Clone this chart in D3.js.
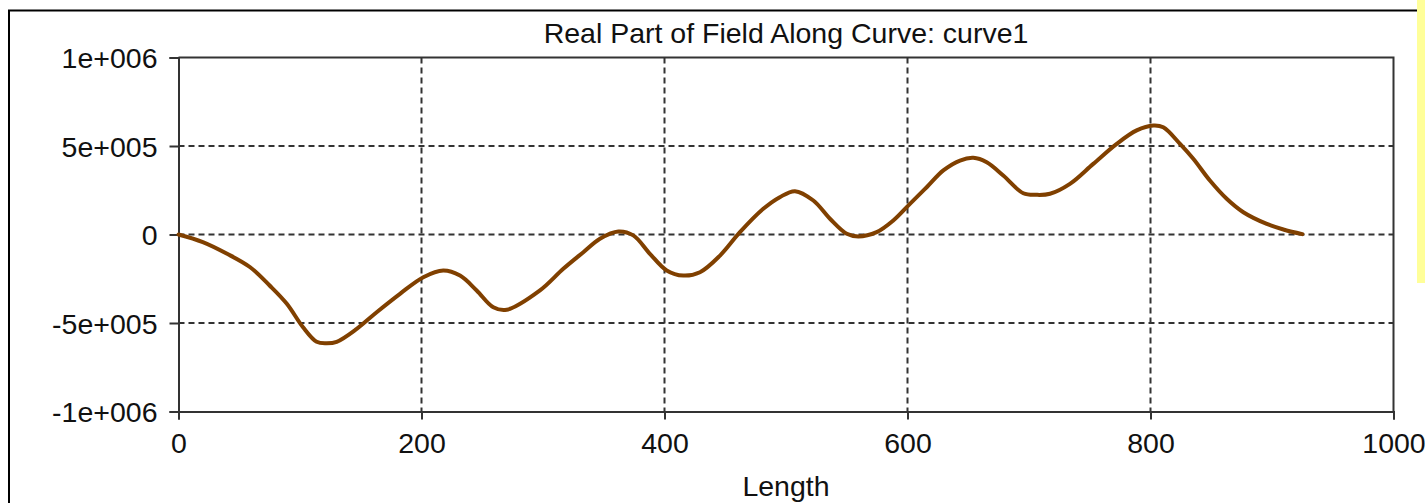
<!DOCTYPE html>
<html>
<head>
<meta charset="utf-8">
<script src="https://cdn.jsdelivr.net/npm/d3@7"></script>
<style>
  html, body { margin: 0; padding: 0; background: #fff; overflow: hidden; }
  svg { display: block; }
  text { font-family: "Liberation Sans", Arial, sans-serif; fill: #111; }
</style>
</head>
<body>
<svg id="chart" width="1425" height="503"></svg>
<script>
// Sampled field values along curve1 (length, real part)
const lengths = [0, 20, 40, 59, 75, 89, 102.5, 113.7, 122, 130.2, 146.7, 163.1, 182.3, 201.5, 217.9,
  231.7, 245.4, 259.1, 270.1, 297.5, 316.7, 333.2, 346.9, 362, 374.3, 388, 401.8, 415.5, 429.2,
  445.7, 462.1, 481.3, 494.9, 507.4, 522.5, 536.2, 550, 559.5, 574.6, 588.3, 602, 615.8, 629.5,
  643.2, 654.2, 665.2, 678.8, 695.3, 706.3, 717.3, 733.7, 752.9, 772.2, 788.6, 802.3, 810.5,
  824.3, 835.2, 848.9, 862.7, 876.4, 895.7, 910, 925];
const realPart = [0, -43000, -109000, -185000, -288000, -390000, -524000, -606000, -614000, -606000,
  -533000, -439000, -335000, -241000, -203000, -232000, -316000, -411000, -425000, -316000,
  -194000, -100000, -24000, 17000, -5000, -109000, -203000, -232000, -213000, -119000, 13000,
  145000, 211000, 245000, 192000, 89000, 4000, -11000, 13000, 79000, 173000, 267000, 362000,
  418000, 433000, 408000, 333000, 233000, 224000, 230000, 286000, 399000, 512000, 588000,
  616000, 606000, 512000, 428000, 305000, 202000, 126000, 60000, 27000, 2000];

const xTicks = [0, 200, 400, 600, 800, 1000];
const xTickLabels = ["0", "200", "400", "600", "800", "1000"];
const yTicks = [-1e6, -5e5, 0, 5e5, 1e6];
const yTickLabels = ["-1e+006", "-5e+005", "0", "5e+005", "1e+006"];
const titleText = "Real Part of Field Along Curve: curve1";
const xAxisTitle = "Length";

const svg = d3.select("#chart");

// Outer window frame and side strip
svg.append("rect").attr("x", 1417).attr("y", 0).attr("width", 8).attr("height", 283)
  .attr("fill", "#ffff99");
svg.append("path").attr("d", "M9,503 V10.5 H1417")
  .attr("fill", "none").attr("stroke", "#000").attr("stroke-width", 2);

const x = d3.scaleLinear().domain([0, 1000]).range([178.5, 1393.5]);
const y = d3.scaleLinear().domain([-1e6, 1e6]).range([411.5, 57.5]);

// Dashed grid
const grid = svg.append("g").attr("stroke", "#333").attr("stroke-width", 2)
  .attr("stroke-dasharray", "6,4").attr("fill", "none");
grid.selectAll("line.h").data(yTicks.filter(v => Math.abs(v) < 1e6)).join("line")
  .attr("class", "h")
  .attr("x1", x(0)).attr("x2", x(1000))
  .attr("y1", d => y(d)).attr("y2", d => y(d));
grid.selectAll("line.v").data(xTicks.filter(v => v > 0 && v < 1000)).join("line")
  .attr("class", "v")
  .attr("y1", y(1e6)).attr("y2", y(-1e6))
  .attr("x1", d => x(d)).attr("x2", d => x(d));

// Plot frame (top and right edges)
svg.append("path")
  .attr("d", `M${x(0)},${y(1e6)} H${x(1000)} V${y(-1e6)}`)
  .attr("fill", "none").attr("stroke", "#333").attr("stroke-width", 2);

// Axes
const yAxis = d3.axisLeft(y).tickValues(yTicks)
  .tickFormat((d, i) => yTickLabels[i]).tickSize(9).tickPadding(12);
const xAxis = d3.axisBottom(x).tickValues(xTicks)
  .tickFormat((d, i) => xTickLabels[i]).tickSize(8).tickPadding(13);

const gy = svg.append("g").attr("transform", `translate(${x(0)},0)`).call(yAxis);
const gx = svg.append("g").attr("transform", `translate(0,${y(-1e6)})`).call(xAxis);
[gx, gy].forEach(g => {
  g.select(".domain").attr("stroke", "#333").attr("stroke-width", 2);
  g.selectAll(".tick line").attr("stroke", "#333").attr("stroke-width", 2);
  g.selectAll(".tick text").attr("font-size", 28.5).attr("fill", "#111")
    .attr("font-family", "'Liberation Sans', Arial, sans-serif");
});
gy.selectAll(".tick text").attr("dy", "0.36em");

// Field curve
const pts = lengths.map((l, i) => [l, realPart[i]]);
svg.append("path").datum(pts)
  .attr("fill", "none").attr("stroke", "#804000").attr("stroke-width", 4)
  .attr("stroke-linejoin", "round").attr("stroke-linecap", "round")
  .attr("d", d3.line().x(d => x(d[0])).y(d => y(d[1])).curve(d3.curveCatmullRom.alpha(0.5)));

// Titles
svg.append("text").attr("x", (x(0) + x(1000)) / 2).attr("y", 43)
  .attr("text-anchor", "middle").attr("font-size", 28.5).text(titleText);
svg.append("text").attr("x", (x(0) + x(1000)) / 2).attr("y", 496)
  .attr("text-anchor", "middle").attr("font-size", 28.5).text(xAxisTitle);
</script>
</body>
</html>
